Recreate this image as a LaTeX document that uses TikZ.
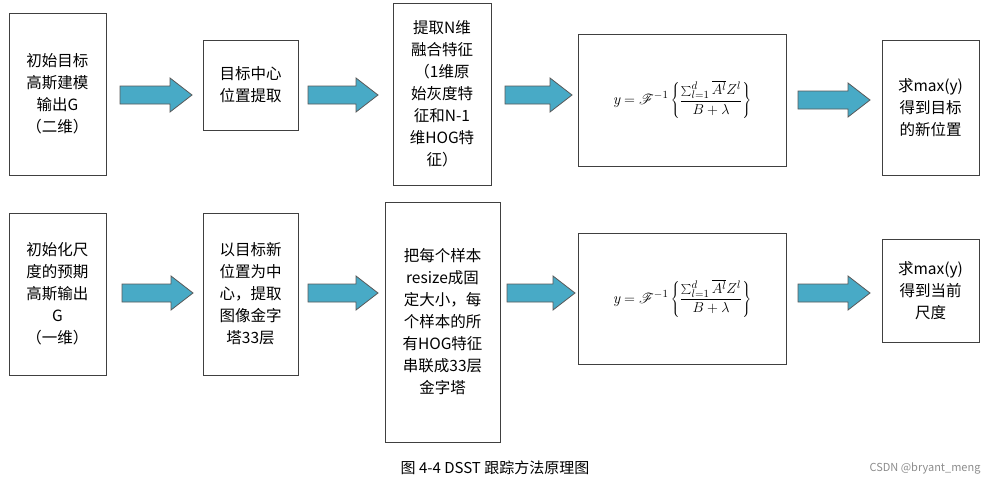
\documentclass[tikz,border=0pt]{standalone}
\usepackage{fontspec}
\usepackage{mathrsfs}
\newfontfamily\cjk{Noto Sans CJK SC}
\newfontfamily\cjkmono{Noto Sans CJK SC}
\begin{document}
\begin{tikzpicture}[x=1pt,y=-1pt,
  box/.style={draw=black!75,line width=0.8pt,inner sep=0pt,align=center,font=\cjk\fontsize{15.5}{22}\selectfont},
  barrowstyle/.style={fill=cyan!55!blue!60!teal!80,draw=black!70,line width=0.8pt,line join=miter}]
\definecolor{arrowcol}{RGB}{72,170,198}
\tikzset{barrowstyle/.style={fill=arrowcol,draw=black!65,line width=0.8pt}}
\newcommand\barrow[3]{% x1 x2 y
  \draw[barrowstyle] (#1,#3-9) -- (#2-22,#3-9) -- (#2-22,#3-17) -- (#2,#3) -- (#2-22,#3+17) -- (#2-22,#3+9) -- (#1,#3+9) -- cycle;}
\useasboundingbox (0,0) rectangle (988,482);
% row 1
\node[box,minimum width=97pt,minimum height=162pt] (a1) at (57.5,94) {初始目标\\高斯建模\\输出G\\（二维）};
\node[box,minimum width=95pt,minimum height=90pt] (a2) at (250.5,85) {目标中心\\位置提取};
\node[box,minimum width=98pt,minimum height=182pt] (a3) at (442,94) {提取N维\\融合特征\\（1维原\\始灰度特\\征和N-1\\维HOG特\\征）};
\node[box,minimum width=208pt,minimum height=132pt] (a4) at (682,100) {$\displaystyle \mathit{y}=\mathscr{F}^{-1}\left\{\frac{\sum_{l=1}^{d}\overline{A^{l}}Z^{l}}{B+\lambda}\right\}$};
\node[box,minimum width=97pt,minimum height=135pt] (a5) at (930.5,107.5) {求max(y)\\得到目标\\的新位置};
% row 2
\node[box,minimum width=97pt,minimum height=162pt] (b1) at (57.5,294) {初始化尺\\度的预期\\高斯输出\\G\\（一维）};
\node[box,minimum width=95pt,minimum height=162pt] (b2) at (250.5,294) {以目标新\\位置为中\\心，提取\\图像金字\\塔33层};
\node[box,minimum width=115pt,minimum height=240pt] (b3) at (442.5,322) {把每个样本\\resize成固\\定大小，每\\个样本的所\\有HOG特征\\串联成33层\\金字塔};
\node[box,minimum width=208pt,minimum height=131pt] (b4) at (682,298.5) {$\displaystyle \mathit{y}=\mathscr{F}^{-1}\left\{\frac{\sum_{l=1}^{d}\overline{A^{l}}Z^{l}}{B+\lambda}\right\}$};
\node[box,minimum width=97pt,minimum height=103pt] (b5) at (930.5,290.5) {求max(y)\\得到当前\\尺度};
% arrows
\barrow{120}{192}{95}
\barrow{308}{378}{95}
\barrow{505}{572}{95}
\barrow{798}{870}{100}
\barrow{122}{193}{293}
\barrow{308}{378}{293}
\barrow{507}{575}{293}
\barrow{798}{870}{293}
\node[font=\cjk\fontsize{15}{18}\selectfont] (cap) at (495,468) {图 4-4 DSST 跟踪方法原理图};
\node[font=\cjk\fontsize{11}{13}\selectfont,text=black!45,anchor=east] (wm) at (984,468) {CSDN @bryant\_meng};
\end{tikzpicture}
\end{document}
